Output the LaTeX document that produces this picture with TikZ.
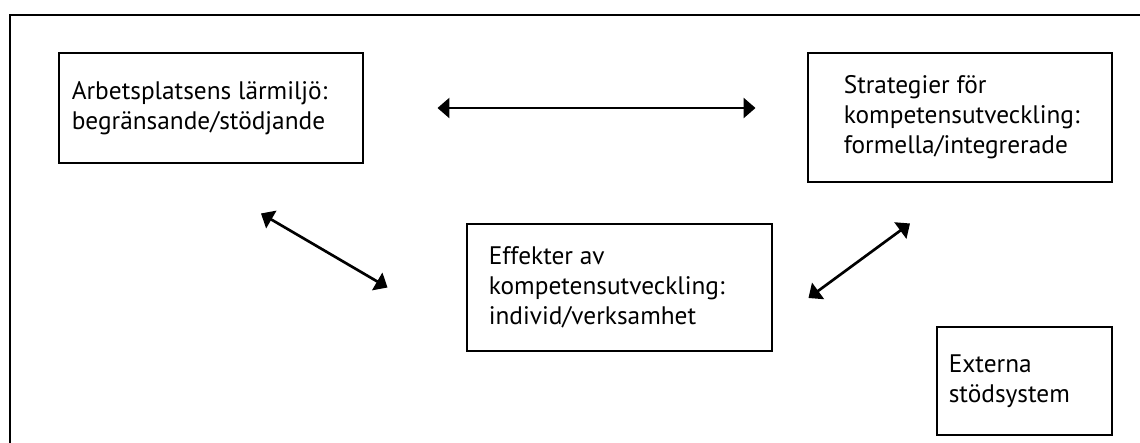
\documentclass[tikz,border=0pt]{standalone}
\usepackage{fontspec}
\setmainfont{PT Sans}
\usetikzlibrary{arrows.meta}

\begin{document}
\begin{tikzpicture}[x=0.75pt,y=-0.75pt,>={Triangle[length=9pt,width=15pt]},
                box/.style={draw,line width=2.2pt,inner sep=0pt},
                txt/.style={align=left,inner sep=0pt,font=\fontsize{19}{22.5}\selectfont},
                link/.style={<->,line width=2pt}]
                \useasboundingbox (0,0) rectangle (1140,443);
                \clip (0,0) rectangle (1140,443);
                \draw[line width=2.2pt] (10,470) -- (10,15) -- (1170,15);

                \node[box,minimum width=228pt,minimum height=82.5pt,
                    label={[txt,anchor=west,xshift=10.5pt]west:{Arbetsplatsens lärmiljö:\\begränsande/stödjande}}] (arb) at (211,108) {};
                \node[box,minimum width=228pt,minimum height=96.75pt,
                    label={[txt,anchor=west,xshift=27.75pt]west:{Strategier för\\kompetensutveckling:\\formella/integrerade}}] (strat) at (960,117.5) {};
                \node[box,minimum width=228.75pt,minimum height=95.25pt,
                    label={[txt,anchor=west,xshift=17.25pt]west:{Effekter av\\kompetensutveckling:\\individ/verksamhet}}] (eff) at (619.5,287.5) {};
                \node[box,minimum width=131.25pt,minimum height=81pt,
                    label={[txt,anchor=west,xshift=9.75pt]west:{Externa\\stödsystem}}] (ext) at (1024.5,381) {};

                \draw[link] ([shift={(73,0)}]arb.east) -- ([shift={(-51,0)}]arb.east -| strat.west);
                \draw[link] ([shift={(50,49)}]arb.south) -- ([shift={(-78,0)}]eff.west);
                \draw[link] ([shift={(35,10.5)}]eff.east) -- ([shift={(-50,40)}]strat.south);
            \end{tikzpicture}
\end{document}
